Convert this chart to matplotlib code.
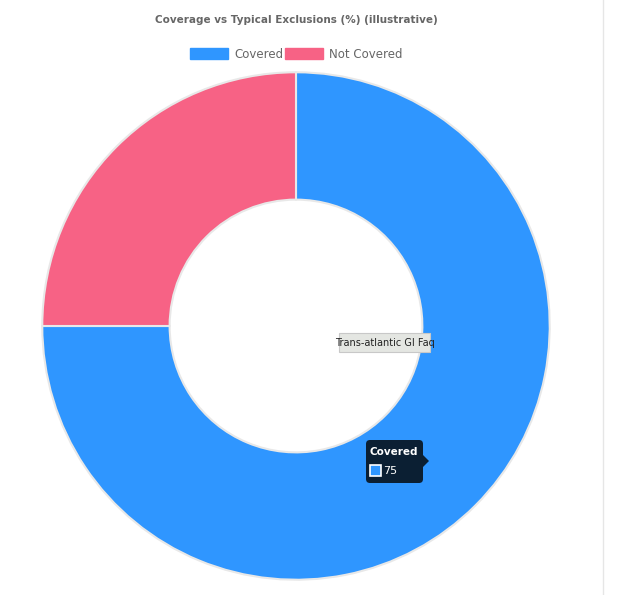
import matplotlib.pyplot as plt
from matplotlib.patches import FancyBboxPatch, Polygon, Rectangle

labels = ["Covered", "Not Covered"]
values = [75, 25]
colors = ["#2f96ff", "#f76285"]
tooltip_label = "Covered"
tooltip_value = 75
note_text = "Trans-atlantic GI Faq"

W, H = 625, 595
fig = plt.figure(figsize=(W / 100, H / 100), dpi=100)
ax = fig.add_axes([0, 0, 1, 1])
ax.set_xlim(0, W)
ax.set_ylim(H, 0)
ax.axis("off")

# donut: center (296, 326), outer r 255, inner r 127 in pixel coords
cx, cy, r = 296, 326, 255
pie_ax = fig.add_axes([(cx - r) / W, 1 - (cy + r) / H, 2 * r / W, 2 * r / H])
pie_ax.pie(values, colors=colors, startangle=90, counterclock=False,
           wedgeprops=dict(width=128 / 255, edgecolor="#e8e8e8", linewidth=1.5))
pie_ax.set_xlim(-1.005, 1.005)
pie_ax.set_ylim(-1.005, 1.005)
pie_ax.axis("off")

fig.text(296 / W, 1 - 20 / H, "Coverage vs Typical Exclusions (%) (illustrative)",
         ha="center", va="center", fontsize=7.5, fontweight="bold", color="#666666")

# legend
lx = 190
for lab, col in zip(labels, colors):
    ax.add_patch(Rectangle((lx, 48), 38, 11, color=col, zorder=5))
    ax.text(lx + 44, 54, lab, fontsize=8.5, color="#666666", va="center", zorder=5)
    lx += 44 + len(lab) * 5.6 + 12

# right edge line
ax.plot([603, 603], [0, H], color="#e6e6e6", lw=1)

ov = fig.add_axes([0, 0, 1, 1])
ov.set_xlim(0, W)
ov.set_ylim(H, 0)
ov.axis("off")

# note box
ov.add_patch(Rectangle((339, 333), 91, 19, facecolor="#e4e6e2", edgecolor="#c8c8c8", lw=0.8))
ov.text(384.5, 343, note_text, fontsize=7, color="#222222", va="center", ha="center")

# tooltip
ov.add_patch(FancyBboxPatch((366, 440), 57, 43, boxstyle="round,pad=0,rounding_size=4",
                            facecolor="#0b1f33", edgecolor="none"))
ov.add_patch(Polygon([[423, 455], [429, 461], [423, 467]], closed=True, facecolor="#0b1f33"))
ov.text(370, 452, tooltip_label, fontsize=7.5, fontweight="bold", color="white", va="center")
ov.add_patch(Rectangle((370, 465), 11, 11, facecolor=colors[0], edgecolor="white", lw=1.2))
ov.text(383, 471, str(tooltip_value), fontsize=8, color="white", va="center")

fig.savefig("out.png", dpi=100)
